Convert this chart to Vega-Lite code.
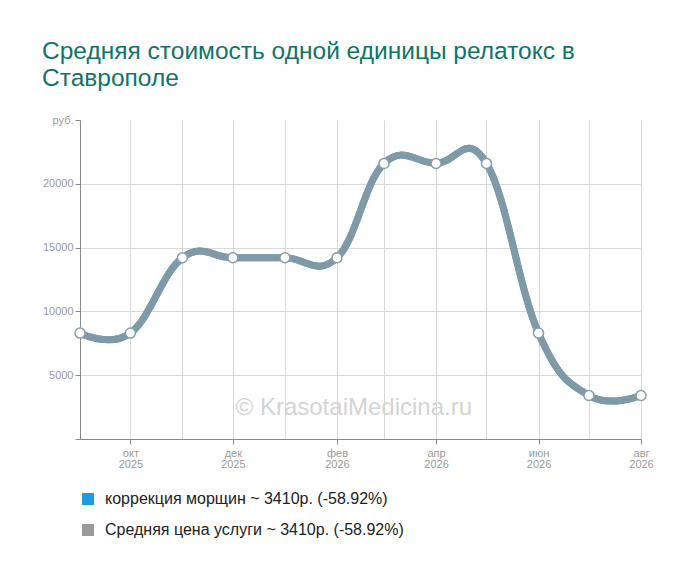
{
  "$schema": "https://vega.github.io/schema/vega-lite/v6.json",
  "autosize": {"type": "none"},
  "padding": {"left": 80, "top": 120, "right": 59, "bottom": 143},
  "width": 561,
  "height": 319,
  "background": "white",
  "title": {
    "text": ["Средняя стоимость одной единицы релатокс в", "Ставрополе"],
    "anchor": "start",
    "frame": "group",
    "dx": -38,
    "offset": 23,
    "font": "Liberation Sans",
    "fontSize": 24.5,
    "fontWeight": "normal",
    "color": "#0f7469",
    "lineHeight": 27
  },
  "config": {
    "font": "Liberation Sans",
    "view": {"stroke": null}
  },
  "data": {
    "values": [
      {"date": "2025-09-01", "price": 8300, "series": "коррекция морщин ~ 3410р. (-58.92%)"},
      {"date": "2025-10-01", "price": 8300, "series": "коррекция морщин ~ 3410р. (-58.92%)"},
      {"date": "2025-11-01", "price": 14200, "series": "коррекция морщин ~ 3410р. (-58.92%)"},
      {"date": "2025-12-01", "price": 14200, "series": "коррекция морщин ~ 3410р. (-58.92%)"},
      {"date": "2026-01-01", "price": 14200, "series": "коррекция морщин ~ 3410р. (-58.92%)"},
      {"date": "2026-02-01", "price": 14200, "series": "коррекция морщин ~ 3410р. (-58.92%)"},
      {"date": "2026-03-01", "price": 21600, "series": "коррекция морщин ~ 3410р. (-58.92%)"},
      {"date": "2026-04-01", "price": 21600, "series": "коррекция морщин ~ 3410р. (-58.92%)"},
      {"date": "2026-05-01", "price": 21600, "series": "коррекция морщин ~ 3410р. (-58.92%)"},
      {"date": "2026-06-01", "price": 8300, "series": "коррекция морщин ~ 3410р. (-58.92%)"},
      {"date": "2026-07-01", "price": 3410, "series": "коррекция морщин ~ 3410р. (-58.92%)"},
      {"date": "2026-08-01", "price": 3410, "series": "коррекция морщин ~ 3410р. (-58.92%)"},
      {"date": "2025-09-01", "price": 8300, "series": "Средняя цена услуги ~ 3410р. (-58.92%)"},
      {"date": "2025-10-01", "price": 8300, "series": "Средняя цена услуги ~ 3410р. (-58.92%)"},
      {"date": "2025-11-01", "price": 14200, "series": "Средняя цена услуги ~ 3410р. (-58.92%)"},
      {"date": "2025-12-01", "price": 14200, "series": "Средняя цена услуги ~ 3410р. (-58.92%)"},
      {"date": "2026-01-01", "price": 14200, "series": "Средняя цена услуги ~ 3410р. (-58.92%)"},
      {"date": "2026-02-01", "price": 14200, "series": "Средняя цена услуги ~ 3410р. (-58.92%)"},
      {"date": "2026-03-01", "price": 21600, "series": "Средняя цена услуги ~ 3410р. (-58.92%)"},
      {"date": "2026-04-01", "price": 21600, "series": "Средняя цена услуги ~ 3410р. (-58.92%)"},
      {"date": "2026-05-01", "price": 21600, "series": "Средняя цена услуги ~ 3410р. (-58.92%)"},
      {"date": "2026-06-01", "price": 8300, "series": "Средняя цена услуги ~ 3410р. (-58.92%)"},
      {"date": "2026-07-01", "price": 3410, "series": "Средняя цена услуги ~ 3410р. (-58.92%)"},
      {"date": "2026-08-01", "price": 3410, "series": "Средняя цена услуги ~ 3410р. (-58.92%)"}
    ]
  },
  "encoding": {
    "x": {
      "field": "date",
      "type": "temporal",
      "scale": {"type": "utc", "domain": ["2025-09-01", "2026-08-01"]},
      "axis": {
        "title": null,
        "tickCount": {"interval": "month", "step": 1},
        "labelExpr": "utcmonth(datum.value) % 2 == 1 ? [['янв','фев','мар','апр','май','июн','июл','авг','сен','окт','ноя','дек'][utcmonth(datum.value)], utcFormat(datum.value, '%Y')] : ''",
        "labelOverlap": false,
        "labelFlush": false,
        "labelBound": false,
        "labelColor": "#999999",
        "labelFontSize": 11,
        "labelLineHeight": 11,
        "labelPadding": 3,
        "domainColor": "#888888",
        "tickColor": "#888888",
        "tickSize": 5,
        "tickOpacity": {"condition": {"test": "utcmonth(datum.value) % 2 == 1", "value": 1}, "value": 0},
        "gridColor": "#d8d8d8",
        "gridOpacity": 1
      }
    },
    "y": {
      "field": "price",
      "type": "quantitative",
      "scale": {"domain": [0, 25000], "nice": false},
      "axis": {
        "title": null,
        "values": [0, 5000, 10000, 15000, 20000, 25000],
        "labelExpr": "datum.value == 0 ? '' : datum.value == 25000 ? 'руб.' : format(datum.value, 'd')",
        "labelColor": "#999999",
        "labelFontSize": 11,
        "labelPadding": 2,
        "domainColor": "#888888",
        "tickColor": "#888888",
        "tickSize": 5,
        "gridColor": "#d8d8d8",
        "gridOpacity": {"condition": {"test": "datum.value == 25000 || datum.value == 0", "value": 0}, "value": 1}
      }
    },
    "color": {
      "field": "series",
      "type": "nominal",
      "scale": {
        "domain": ["коррекция морщин ~ 3410р. (-58.92%)", "Средняя цена услуги ~ 3410р. (-58.92%)"],
        "range": ["#2199e0", "#999999"]
      },
      "legend": {
        "title": null,
        "orient": "none",
        "legendX": 0,
        "legendY": 371,
        "symbolType": "square",
        "symbolSize": 144,
        "labelFontSize": 16,
        "labelColor": "#222222",
        "labelOffset": 9,
        "labelLimit": 0,
        "rowPadding": 15,
        "encode": {
          "symbols": {
            "update": {
              "fill": {"scale": "color", "field": "value"},
              "strokeWidth": {"value": 0}
            }
          }
        }
      }
    }
  },
  "layer": [
    {
      "transform": [{"filter": "datum.series == 'коррекция морщин ~ 3410р. (-58.92%)'"}],
      "mark": {"type": "line", "interpolate": "cardinal", "tension": -0.2, "strokeWidth": 7}
    },
    {
      "transform": [{"filter": "datum.series == 'Средняя цена услуги ~ 3410р. (-58.92%)'"}],
      "mark": {"type": "line", "interpolate": "cardinal", "tension": -0.2, "strokeWidth": 7, "strokeOpacity": 0.8}
    },
    {
      "transform": [{"filter": "datum.series == 'Средняя цена услуги ~ 3410р. (-58.92%)'"}],
      "mark": {"type": "point", "filled": true, "fill": "white", "stroke": "#8a9ea8", "strokeWidth": 1.5, "size": 100, "opacity": 1},
      "encoding": {"color": {"value": "white"}}
    },
    {
      "data": {"values": [{"date": "2026-02-11", "price": 2420, "label": "© KrasotaiMedicina.ru"}]},
      "mark": {"type": "text", "fontSize": 24, "align": "center", "baseline": "middle"},
      "encoding": {"text": {"field": "label"}, "color": {"value": "#d4d4d4"}}
    }
  ]
}
